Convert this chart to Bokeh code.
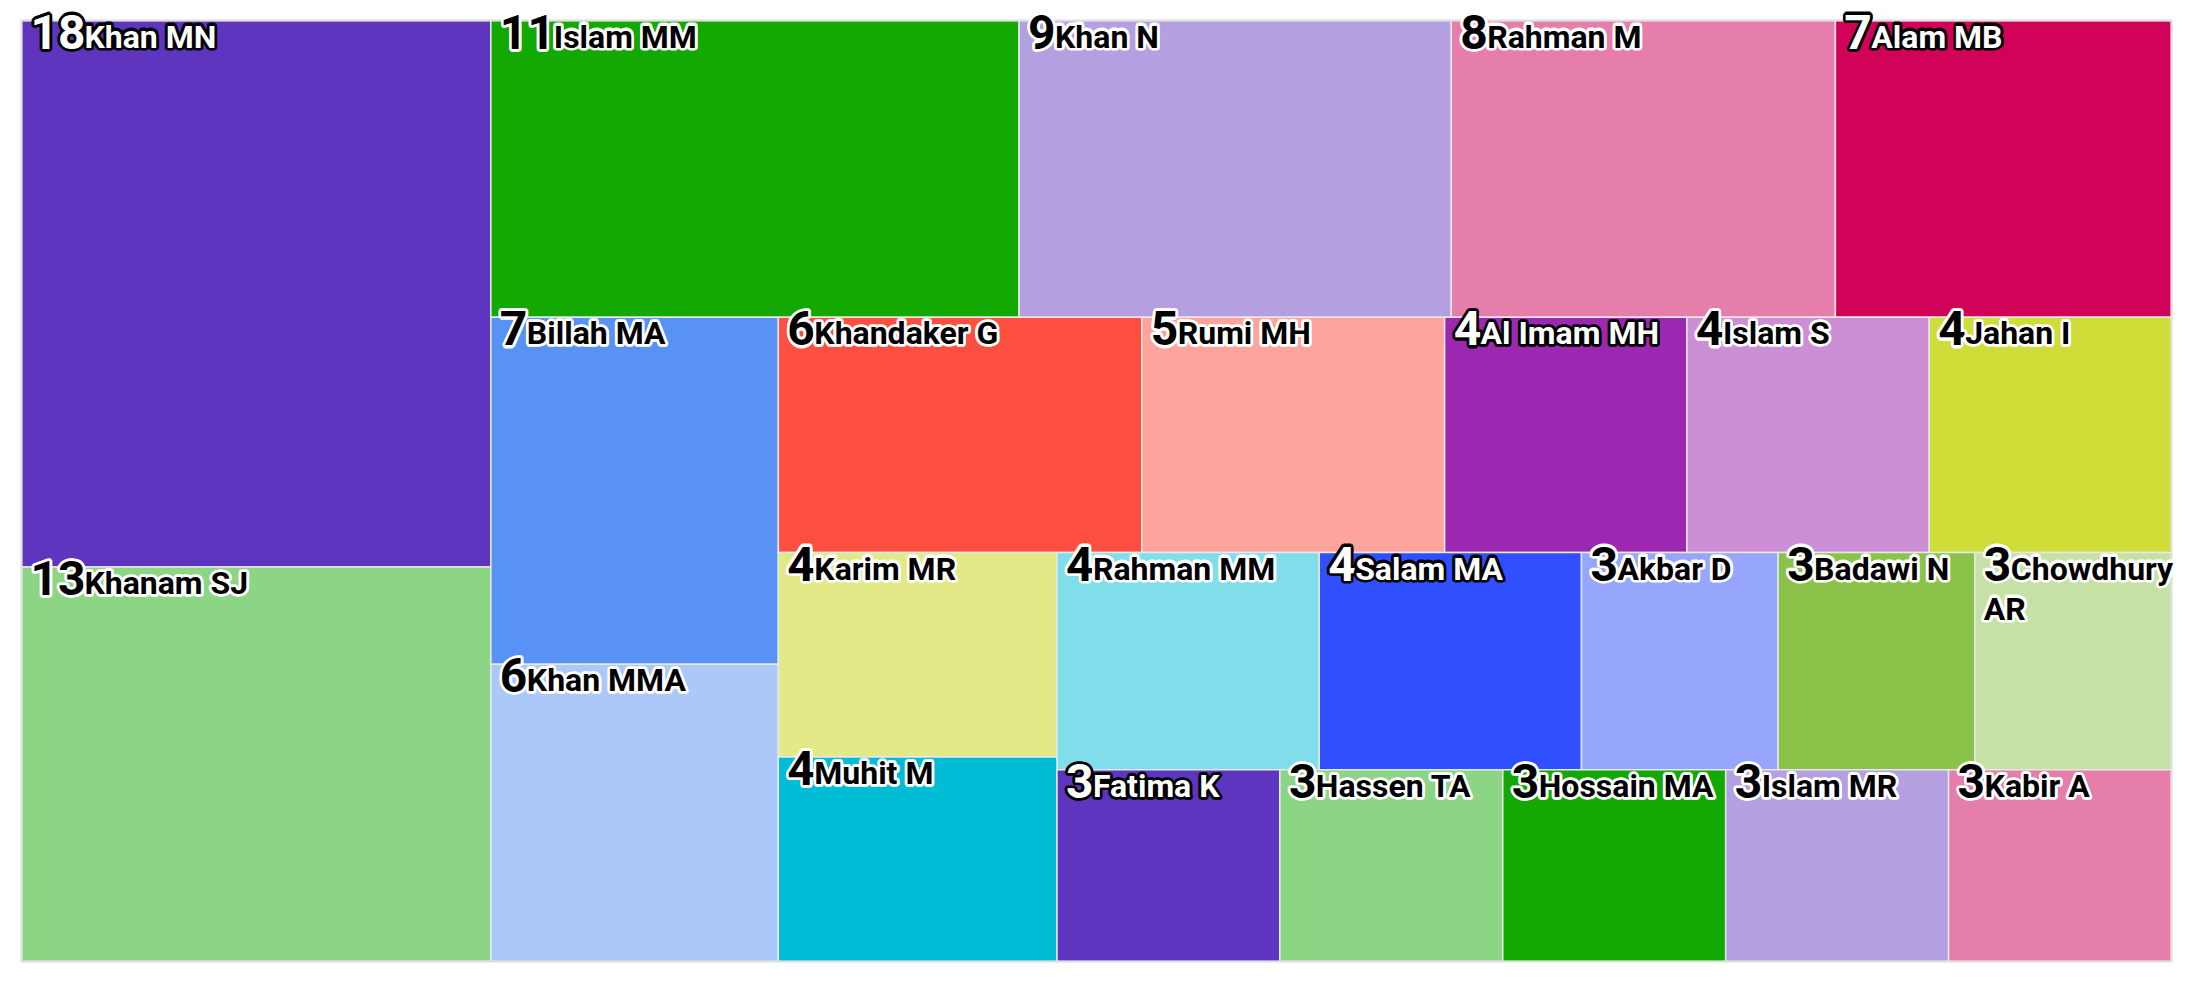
import math
from bokeh.plotting import figure
from bokeh.models import Range1d, ColumnDataSource
from bokeh.core.properties import value
from bokeh.embed import file_html
from bokeh.resources import INLINE

# ---- data (in colour order) ----
names = ["Khan MN", "Khanam SJ", "Islam MM", "Khan N", "Rahman M", "Alam MB",
         "Billah MA", "Khandaker G", "Khan MMA", "Rumi MH", "Al Imam MH", "Islam S",
         "Jahan I", "Karim MR", "Rahman MM", "Salam MA", "Muhit M", "Akbar D",
         "Badawi N", "Chowdhury AR", "Fatima K", "Hassen TA", "Hossain MA",
         "Islam MR", "Kabir A"]
counts = [18, 13, 11, 9, 8, 7, 7, 6, 6, 5, 4, 4, 4, 4, 4, 4, 4, 3, 3, 3, 3, 3, 3, 3, 3]
palette = ["#5e35bf", "#8cd584", "#13a802", "#b49fe0", "#e57eaa", "#d00358",
           "#5792f4", "#ff4f40", "#abc8f9", "#ffa49c", "#9c27b0", "#cc8fd6",
           "#cfdd38", "#e3e987", "#80deea", "#304ffe", "#00bcd4", "#96a6fc",
           "#8bc34a", "#c5e1a5"]

FW, FH = 2150, 941  # treemap size in px (1 data unit == 1 px)
ML, MT, MR, MB = 4, 16, 8, 4  # extra frame room so labels are not clipped


# ---- squarified layout (alternating direction, Highcharts-style) ----
def ar(a, b):
    return max(a / b, b / a)


def squarified(vals, X, Y, W, H):
    tot = float(sum(vals))
    areas = [W * H * v / tot for v in vals]
    out = []
    g = dict(height=H, width=W, direction=0, total=0.0, nW=0.0, lW=0.0,
             nH=0.0, lH=0.0, el=[], nR=None, lR=None)
    pos = {"x": X, "y": Y}

    def add(el):
        last = g["el"][-1] if g["el"] else None
        g["total"] += el
        if g["direction"] == 0:
            g["lW"] = g["nW"]
            g["nW"] = g["total"] / g["height"]
            if last is not None:
                g["lR"] = ar(g["lW"], last / g["lW"])
                g["nR"] = ar(g["nW"], last / g["nW"])
            else:
                g["lR"] = g["nR"] = None
        else:
            g["lH"] = g["nH"]
            g["nH"] = g["total"] / g["width"]
            if last is not None:
                g["lR"] = ar(last / g["lH"], g["lH"])
                g["nR"] = ar(last / g["nH"], g["nH"])
            else:
                g["lR"] = g["nR"] = None
        g["el"].append(el)

    def calc(last):
        gW, gH = g["lW"], g["lH"]
        keep = None
        if last:
            gW, gH = g["nW"], g["nH"]
        else:
            keep = g["el"][-1]
        end = len(g["el"]) - 1
        for i, p in enumerate(g["el"]):
            if last or i < end:
                if g["direction"] == 0:
                    w, h = gW, p / gW
                    out.append((pos["x"], pos["y"], w, h))
                    pos["y"] += h
                else:
                    w, h = p / gH, gH
                    out.append((pos["x"], pos["y"], w, h))
                    pos["x"] += w
        g["nW"] = 0.0
        g["lW"] = 0.0
        g["el"] = []
        g["total"] = 0.0
        if g["direction"] == 0:
            g["width"] -= gW
        else:
            g["height"] -= gH
        pos["y"] = Y + (H - g["height"])
        pos["x"] = X + (W - g["width"])
        g["direction"] = 1 - g["direction"]
        if not last:
            add(keep)

    n = len(areas)
    for i, a in enumerate(areas):
        add(a)
        if g["nR"] is not None and g["lR"] is not None and g["nR"] > g["lR"]:
            calc(False)
        if i == n - 1:
            calc(True)
    return out


# layout order: value descending, then name
order = sorted(range(len(counts)), key=lambda i: (-counts[i], names[i]))
laid = squarified([counts[i] for i in order], 0.0, 0.0, FW, FH)
rects = [None] * len(counts)
for k, i in enumerate(order):
    rects[i] = laid[k]


def luminance(hexc):
    r, gg, b = (int(hexc[i:i + 2], 16) / 255 for i in (1, 3, 5))
    def lin(c):
        return c / 12.92 if c <= 0.03928 else ((c + 0.055) / 1.055) ** 2.4
    return 0.2126 * lin(r) + 0.7152 * lin(gg) + 0.0722 * lin(b)


# approximate Roboto Bold advance widths (em)
CW = {" ": 0.25, "i": 0.25, "l": 0.25, "I": 0.29, "r": 0.35, "t": 0.34,
      "m": 0.88, "w": 0.77, "M": 0.87, "W": 0.88}


def text_w(s, size):
    w = 0.0
    for ch in s:
        if ch in CW:
            w += CW[ch]
        elif ch.isupper():
            w += 0.66
        else:
            w += 0.56
    return w * size


NUM_SIZE, NAME_SIZE = 48, 32
DIGIT_W = 0.5615 * NUM_SIZE
PAD = 9
BASE = 26
LINE_H = 40
SHIFT = 0.31  # compensation of the renderer's baseline placement (em)

left, right, top, bottom, fill = [], [], [], [], []
labels = {"num": [], "name": []}  # entries: (x, y, text, fill, outline)

for i, (x, y, w, h) in enumerate(rects):
    col = palette[i % len(palette)]
    left.append(x); right.append(x + w); top.append(y); bottom.append(y + h)
    fill.append(col)
    L = luminance(col)
    white = 1.05 / (L + 0.05) > (L + 0.05) / 0.05
    tc = "#ffffff" if white else "#000000"
    oc = "#000000" if white else "#ffffff"
    num = str(counts[i])
    labels["num"].append((x + PAD, y + BASE - SHIFT * NUM_SIZE, num, tc, oc))
    start = x + PAD + DIGIT_W * len(num)
    words = names[i].split(" ")
    lines = [[]]
    avail = x + w - start
    for wd in words:
        cand = " ".join(lines[-1] + [wd])
        if lines[-1] and text_w(cand, NAME_SIZE) > avail:
            lines.append([wd])
            avail = w - PAD
        else:
            lines[-1].append(wd)
    for k, ln in enumerate(lines):
        labels["name"].append((start if k == 0 else x + PAD,
                               y + BASE + k * LINE_H - SHIFT * NAME_SIZE,
                               " ".join(ln), tc, oc))

p = figure(width=2181, height=976, output_backend="svg", toolbar_location=None,
           x_range=Range1d(-ML, FW + MR), y_range=Range1d(FH + MB, -MT),
           min_border_left=21 - ML, min_border_top=20 - MT,
           min_border_right=10 - MR, min_border_bottom=15 - MB)
p.axis.visible = False
p.xgrid.visible = False
p.ygrid.visible = False
p.outline_line_color = None
p.background_fill_color = "#ffffff"
p.border_fill_color = "#ffffff"

p.quad(left="l", right="r", top="t", bottom="b", fill_color="c",
       line_color="#e8e8e8", line_width=1.5,
       source=ColumnDataSource(dict(l=left, r=right, t=top, b=bottom, c=fill)))
# outer border of the treemap
p.quad(left=[0], right=[FW], top=[0], bottom=[FH], fill_color=None,
       line_color="#e0e0e0", line_width=2)

R = 2.2
offs = [(R * math.cos(a * math.pi / 6), R * math.sin(a * math.pi / 6)) for a in range(12)]

for key, size in (("num", NUM_SIZE), ("name", NAME_SIZE)):
    items = labels[key]
    # halo
    hx, hy, ht, hc, hxo, hyo = [], [], [], [], [], []
    for (x, y, t, tc, oc) in items:
        for dx, dy in offs:
            hx.append(x); hy.append(y); ht.append(t); hc.append(oc)
            hxo.append(dx); hyo.append(dy)
    p.text(x="x", y="y", text="t", text_color="c", text_outline_color="c",
           x_offset="xo", y_offset="yo",
           text_font=value("Roboto"), text_font_style="bold",
           text_font_size=value(f"{size}px"), text_baseline="alphabetic",
           text_align="left",
           source=ColumnDataSource(dict(x=hx, y=hy, t=ht, c=hc, xo=hxo, yo=hyo)))
    p.text(x="x", y="y", text="t", text_color="c",
           text_font=value("Roboto"), text_font_style="bold",
           text_font_size=value(f"{size}px"), text_baseline="alphabetic",
           text_align="left",
           source=ColumnDataSource(dict(x=[it[0] for it in items],
                                        y=[it[1] for it in items],
                                        t=[it[2] for it in items],
                                        c=[it[3] for it in items])))

open("out.html", "w").write(file_html(p, INLINE))
